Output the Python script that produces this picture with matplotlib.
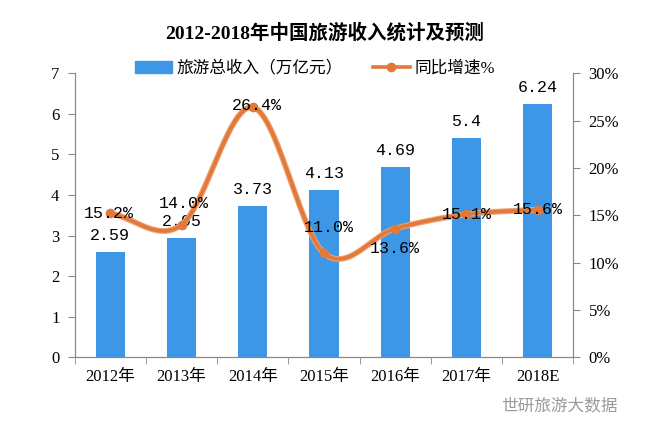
import numpy as np
import matplotlib.pyplot as plt
from matplotlib.lines import Line2D
from matplotlib.patches import Patch

plt.rcParams['font.family'] = ['Liberation Serif', 'Noto Sans CJK SC']

# data
years = ['2012年', '2013年', '2014年', '2015年', '2016年', '2017年', '2018E']
income = [2.59, 2.95, 3.73, 4.13, 4.69, 5.4, 6.24]
growth = [15.2, 14.0, 26.4, 11.0, 13.6, 15.1, 15.6]
income_labels = ['2.59', '2.95', '3.73', '4.13', '4.69', '5.4', '6.24']
growth_labels = ['15.2%', '14.0%', '26.4%', '11.0%', '13.6%', '15.1%', '15.6%']

bar_color = '#3d97e6'
line_color = '#e07a3c'


def smooth(xs, ys, n=30):
    # catmull-rom style curve through the points (like excel smoothed line)
    xs = np.asarray(xs, float)
    ys = np.asarray(ys, float)
    px = np.concatenate([[2 * xs[0] - xs[1]], xs, [2 * xs[-1] - xs[-2]]])
    py = np.concatenate([[2 * ys[0] - ys[1]], ys, [2 * ys[-1] - ys[-2]]])
    out_x, out_y = [], []
    t = np.linspace(0, 1, n)
    for i in range(1, len(px) - 2):
        p0x, p1x, p2x, p3x = px[i - 1:i + 3]
        p0y, p1y, p2y, p3y = py[i - 1:i + 3]
        c1x, c1y = p1x + (p2x - p0x) / 6, p1y + (p2y - p0y) / 6
        c2x, c2y = p2x - (p3x - p1x) / 6, p2y - (p3y - p1y) / 6
        bx = (1 - t) ** 3 * p1x + 3 * (1 - t) ** 2 * t * c1x + 3 * (1 - t) * t ** 2 * c2x + t ** 3 * p2x
        by = (1 - t) ** 3 * p1y + 3 * (1 - t) ** 2 * t * c1y + 3 * (1 - t) * t ** 2 * c2y + t ** 3 * p2y
        out_x.extend(bx)
        out_y.extend(by)
    return np.array(out_x), np.array(out_y)


fig = plt.figure(figsize=(6.5, 4.23), dpi=100)
ax = fig.add_axes([0.115, 0.155, 0.767, 0.672])
ax2 = ax.twinx()

x = np.arange(len(years))
ax.bar(x, income, width=0.41, color=bar_color, zorder=2)
ax.set_ylim(0, 7)
ax.set_xlim(-0.5, len(years) - 0.5)
ax.set_yticks(range(0, 8))
ax.set_xticks(x)
ax.set_xticklabels(years, fontsize=12)
ax.set_xticks(np.arange(-0.5, len(years)), minor=True)
ax.tick_params(axis='x', which='major', length=0, pad=8)
ax.tick_params(axis='x', which='minor', length=5, color='#888888')
ax.tick_params(axis='y', labelsize=12, length=5, color='#888888', pad=6)

for i, v in enumerate(income):
    ax.text(x[i], v + 0.22, income_labels[i], ha='center', va='bottom',
            fontsize=12, family=['Liberation Mono', 'Noto Sans CJK SC'], zorder=5)

sx, sy = smooth(x, growth)
ax2.plot(sx, sy, color='#f0a070', linewidth=4.2, zorder=3, solid_capstyle='round')
ax2.plot(sx, sy, color=line_color, linewidth=2.6, zorder=3, solid_capstyle='round')
ax2.plot(x, growth, 'o', color=line_color, markersize=6, zorder=4)
ax2.set_ylim(0, 30)
ax2.set_yticks(range(0, 31, 5))
ax2.set_yticklabels([f'{v}%' for v in range(0, 31, 5)])
ax2.tick_params(axis='y', labelsize=12, length=5, color='#888888', pad=6)

# label offsets in pixels (dx, dy)
offsets = [(-2, 0), (2, 21), (4, 2), (5, 26), (0, -20), (0, 0), (0, 0)]
for i, v in enumerate(growth):
    ax2.annotate(growth_labels[i], (x[i], v), xytext=offsets[i], textcoords='offset pixels',
                 ha='center', va='center', fontsize=12,
                 family=['Liberation Mono', 'Noto Sans CJK SC'], zorder=6)

for a in (ax, ax2):
    a.spines['top'].set_visible(False)
    a.spines['left'].set_color('#888888')
    a.spines['right'].set_color('#888888')
    a.spines['bottom'].set_color('#888888')

fig.suptitle('2012-2018年中国旅游收入统计及预测', y=0.945, fontsize=14, fontweight='bold')

handles = [Patch(color=bar_color),
           Line2D([0], [0], color=line_color, linewidth=2.6, marker='o', markersize=6)]
fig.legend(handles, ['旅游总收入（万亿元）', '同比增速%'], loc='center', bbox_to_anchor=(0.485, 0.838),
           ncol=2, frameon=False, fontsize=12, handlelength=2.2, columnspacing=1.8,
           handletextpad=0.3)

fig.text(0.95, 0.04, '世研旅游大数据', ha='right', va='center', fontsize=12, color='#9a9a9a')

fig.savefig('out.png', dpi=100)
